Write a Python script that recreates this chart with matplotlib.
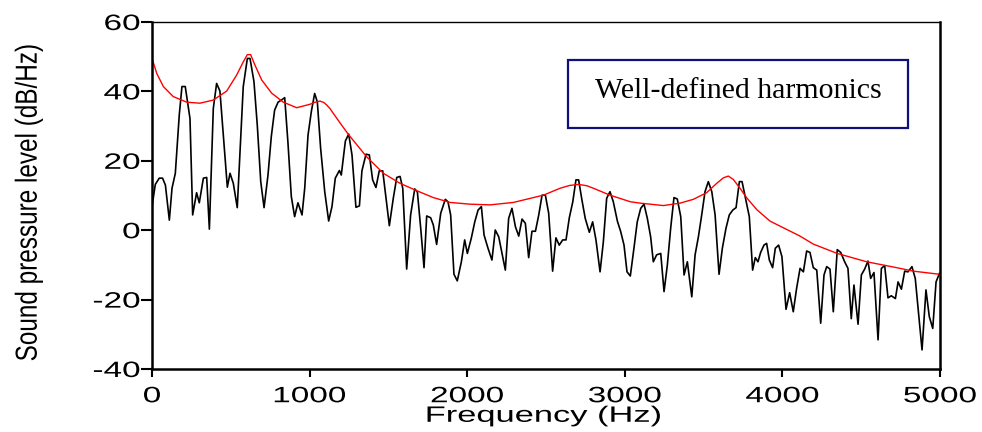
import numpy as np
import matplotlib
matplotlib.use("Agg")
from matplotlib import pyplot as plt
from matplotlib.patches import Rectangle
from matplotlib.patheffects import AbstractPathEffect
from matplotlib.transforms import Affine2D

plt.rcParams['axes.unicode_minus'] = False

# espectro (linea negra)
freq = [0, 21, 46, 67, 85, 110, 127, 148, 173, 190, 211, 241, 258, 283, 300, 326, 347, 364,
        389, 410, 431, 478, 495, 516, 541, 579, 605, 622, 647, 668, 690, 711, 736, 757, 778,
        800, 821, 842, 863, 884, 905, 926, 952, 969, 990, 1011, 1032, 1049, 1070, 1096, 1121,
        1142, 1163, 1189, 1201, 1227, 1248, 1269, 1294, 1316, 1332, 1358, 1379, 1400, 1421,
        1442, 1464, 1485, 1506, 1531, 1553, 1574, 1591, 1616, 1641, 1667, 1684, 1705, 1726,
        1743, 1768, 1785, 1806, 1832, 1861, 1878, 1895, 1916, 1937, 1963, 1984, 2001, 2026,
        2048, 2069, 2090, 2107, 2132, 2157, 2178, 2200, 2221, 2242, 2263, 2284, 2306, 2327,
        2348, 2369, 2390, 2411, 2433, 2454, 2475, 2496, 2517, 2542, 2563, 2584, 2606, 2627,
        2648, 2670, 2690, 2707, 2728, 2749, 2775, 2796, 2817, 2843, 2864, 2885, 2906, 2927,
        2953, 2974, 2995, 3014, 3035, 3058, 3079, 3101, 3122, 3143, 3164, 3181, 3202, 3228,
        3249, 3270, 3291, 3312, 3333, 3355, 3376, 3397, 3425, 3446, 3467, 3488, 3509, 3530,
        3552, 3573, 3598, 3619, 3642, 3663, 3685, 3706, 3727, 3744, 3765, 3790, 3811, 3828,
        3845, 3862, 3883, 3900, 3917, 3938, 3955, 3976, 3997, 4023, 4046, 4069, 4090, 4112,
        4133, 4154, 4175, 4196, 4218, 4243, 4264, 4281, 4302, 4323, 4348, 4370, 4395, 4416,
        4437, 4454, 4480, 4501, 4522, 4543, 4560, 4581, 4607, 4628, 4649, 4670, 4691, 4717,
        4734, 4755, 4776, 4797, 4822, 4843, 4865, 4886, 4911, 4932, 4954, 4975, 4996]
nivel = [6.8, 13.2, 15.0, 15.0, 13.0, 2.9, 12.1, 16.4, 33.2, 41.4, 41.4, 32.2, 4.4, 10.8, 7.9,
         15.0, 15.2, 0.3, 35.1, 42.3, 40.1, 12.4, 16.4, 13.5, 6.5, 41.4, 49.5, 49.5, 42.8, 30.3,
         14.0, 6.5, 15.9, 27.0, 34.6, 36.9, 37.5, 38.2, 25.0, 9.7, 3.9, 7.9, 4.4, 12.1, 27.4,
         34.2, 39.4, 37.0, 23.6, 11.1, 2.65, 6.8, 15.0, 17.2, 15.9, 25.7, 27.7, 21.7, 6.6, 7.0,
         17.1, 21.9, 21.7, 14.5, 12.3, 17.1, 17.1, 9.2, 1.3, 9.2, 15.2, 15.5, 12.1, -11.2, 4.4,
         11.9, 11.0, 0.55, -10.8, 4.1, 3.6, 1.5, -4.1, 4.9, 8.9, 8.2, 4.4, -12.7, -14.6, -9.1,
         -2.8, -6.7, -2.3, 2.4, 5.8, 6.8, -1.4, -5.2, -8.6, 0.06, -1.9, -6.7, -11.5, 3.4, 6.3,
         1.0, -1.7, 3.2, 2.0, -7.9, -0.3, -0.3, 4.4, 10.1, 10.1, 4.9, -11.8, -2.2, -4.3, -2.8,
         -2.8, 3.6, 8.2, 14.5, 14.5, 8.7, 3.4, -0.6, 2.4, -2.8, -12.0, -3.3, 9.2, 11.1, 8.2,
         2.6, -0.4, -4.3, -12.0, -13.2, -5.2, 2.4, 6.3, 7.5, 3.4, -1.9, -9.1, -7.1, -6.7,
         -17.7, -10.0, 0.55, 9.4, 9.0, 3.9, -12.9, -9.1, -19.2, -7.1, -1.9, 4.4, 11.1, 14.0,
         11.1, 4.4, -12.7, -5.2, 0.55, 4.4, 5.8, 6.5, 14.0, 14.0, 9.4, 3.9, -11.5, -7.9,
         -9.1, -6.4, -4.3, -3.8, -8.6, -10.8, -5.2, -4.3, -7.6, -22.8, -18.0, -23.5, -16.8, -11.0,
         -12.0, -6.0, -6.4, -10.8, -11.5, -26.8, -12.9, -10.5, -11.2, -23.5, -5.6, -6.4, -9.1, -11.0,
         -25.5, -15.8, -27.1, -12.9, -11.2, -8.9, -13.9, -12.2, -31.6, -11.0, -10.2, -19.5, -18.9, -19.7,
         -14.9, -17.0, -11.8, -12.0, -10.5, -13.9, -24.5, -34.5, -17.2, -24.9, -28.3, -14.9, -12.5]

# envolvente (linea roja)
env_freq = [0, 30, 72, 135, 220, 304, 389, 474, 537, 579, 605, 626, 653, 696, 759, 833, 918,
            1003, 1035, 1066, 1090, 1108, 1130, 1150, 1203, 1248, 1309, 1363, 1468, 1574, 1684,
            1785, 1891, 2018, 2145, 2293, 2484, 2590, 2650, 2707, 2760, 2800, 2906, 3035, 3097,
            3245, 3351, 3435, 3519, 3583, 3626, 3657, 3689, 3731, 3774, 3838, 3922, 4028, 4108,
            4196, 4348, 4535, 4725, 4831, 4996]
env_nivel = [49.5, 45.2, 41.4, 38.5, 36.9, 36.6, 37.5, 40.1, 44.7, 48.5, 50.6, 50.6, 47.6, 43.3,
             39.5, 36.9, 35.3, 36.3, 36.9, 37.2, 36.8, 36.1, 35.0, 33.7, 30.3, 27.5, 24.1, 21.1,
             16.4, 13.5, 11.3, 9.4, 8.0, 7.5, 7.3, 8.0, 10.1, 12.1, 12.9, 13.2, 12.8, 12.1, 10.1,
             8.2, 7.8, 7.1, 7.8, 8.9, 10.8, 13.5, 15.1, 15.6, 14.6, 12.1, 9.3, 5.9, 2.6, 0.2,
             -1.6, -4.0, -6.7, -9.1, -10.8, -11.8, -12.7]

xticks = [0, 1000, 2000, 3000, 4000, 5000]
yticks = [-40, -20, 0, 20, 40, 60]


# el texto del original esta estirado a lo ancho
class Estirar(AbstractPathEffect):
    def __init__(self, sx=1.0, sy=1.0, ancla='center'):
        super().__init__()
        self.sx, self.sy, self.ancla = sx, sy, ancla

    def draw_path(self, renderer, gc, tpath, affine, rgbFace=None):
        ext = tpath.get_extents()
        cx = ext.x1 if self.ancla == 'right' else (ext.x0 + ext.x1) / 2
        cy = (ext.y0 + ext.y1) / 2
        t = Affine2D().translate(-cx, -cy).scale(self.sx, self.sy).translate(cx, cy)
        renderer.draw_path(gc, tpath, t + affine, rgbFace)


fig = plt.figure(figsize=(9.82, 4.32), dpi=100)
ax = fig.add_axes([152/982, 63/432, 788/982, 347/432])

ax.plot(freq, nivel, color='black', lw=1.2)
ax.plot(env_freq, env_nivel, color='red', lw=1.0)

ax.set_xlim(0, 5000)
ax.set_ylim(-40, 60)
ax.set_xticks(xticks)
ax.set_yticks(yticks)
ax.tick_params(axis='x', direction='out', length=6, width=1.5, labelsize=16, pad=6.4)
ax.tick_params(axis='y', direction='out', length=8, width=1.5, labelsize=16, pad=0.5)
for lab in ax.get_xticklabels():
    lab.set_family('Liberation Sans')
    lab.set_path_effects([Estirar(sx=1.5)])
for lab in ax.get_yticklabels():
    lab.set_family('Liberation Sans')
    lab.set_path_effects([Estirar(sx=1.5, ancla='right')])
for s in ['left', 'bottom', 'right']:
    ax.spines[s].set_linewidth(1.8)
ax.spines['top'].set_linewidth(1.0)

ax.set_xlabel('Frequency (Hz)', fontsize=16, family='Liberation Sans',
              path_effects=[Estirar(sx=1.55)])
ax.xaxis.set_label_coords(0.497, -0.106)
ax.set_ylabel('Sound pressure level (dB/Hz)', fontsize=17.5, family='Liberation Sans',
              path_effects=[Estirar(sy=1.25)])
ax.yaxis.set_label_coords(-0.142, 0.478)

# caja de texto
ax.add_patch(Rectangle((0.528, 0.695), 0.431, 0.195, transform=ax.transAxes,
                       fill=False, edgecolor='#10107a', lw=1.6, zorder=5))
ax.text(0.7435, 0.80, 'Well-defined harmonics', transform=ax.transAxes, ha='center',
        va='center', fontsize=21.5, family='Liberation Serif', zorder=6)

fig.savefig('out.png', dpi=100)
